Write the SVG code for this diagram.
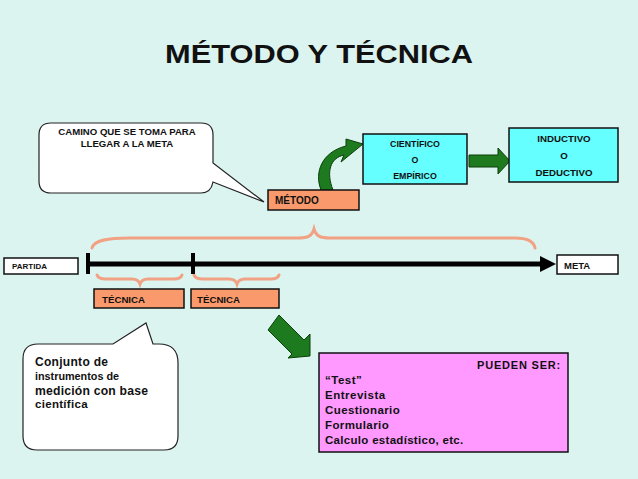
<svg xmlns="http://www.w3.org/2000/svg" width="638" height="479" viewBox="0 0 638 479">
<style>
text{font-family:"Liberation Sans",Arial,sans-serif;font-weight:bold;fill:#111}
.box{stroke:#111;stroke-width:1.5}
.orange{fill:#FA9A6C}
.cyan{fill:#66FFFF}
.pink{fill:#FF99FF}
.white{fill:#fff}
.callout{fill:#fff;stroke:#222;stroke-width:1.2}
.brace{fill:none;stroke:#F2A284;stroke-width:3;stroke-linecap:round}
.garrow{fill:#1E7A1E;stroke:#0B3F0B;stroke-width:1}
</style>
<rect width="638" height="479" fill="#DCF4F0"/>
<text x="165" y="63" font-size="26" textLength="308" lengthAdjust="spacingAndGlyphs">MÉTODO Y TÉCNICA</text>

<g id="connectors">
  <path class="brace" d="M92,248 C94,240 108,238 130,238 L298,238 C308,238 312,236 314,229 C316,236 320,238 330,238 L515,238 C528,238 534,242 535,248"/>
  <path class="brace" d="M97,275 C98,278 101,279 106,279 L132,279 C137,279 139,281 140,284 C141,281 143,279 148,279 L174,279 C179,279 181,278 182,275"/>
  <path class="brace" d="M194,275 C195,278 198,279 203,279 L229,279 C234,279 236,281 237,284 C238,281 240,279 245,279 L271,279 C276,279 278,278 279,275"/>
  <line x1="88" y1="264" x2="542" y2="264" stroke="#000" stroke-width="5"/>
  <polygon points="540,256 556,264 540,272" fill="#000"/>
  <rect x="86" y="253" width="4" height="21" fill="#000"/>
  <rect x="191" y="253" width="4" height="21" fill="#000"/>
  <path class="garrow" d="M321,190 C314,172 322,152 346,146 L346,139 L363,144 L341,162 L344,155 C330,158 326,172 333,190 Z"/>
  <polygon class="garrow" points="469,155 498,155 498,148 510,161 498,174 498,167 469,167"/>
  <polygon class="garrow" points="268,330 279,315 304,340 310,334 310,356 288,358 292,354"/>
</g>

<g id="callout-camino">
  <path class="callout" d="M51,123 H201 Q213,123 213,135 V163 L264,202 L213,182 Q211,193 201,193 H51 Q39,193 39,181 V135 Q39,123 51,123 Z"/>
  <text x="127" y="135" font-size="9.6" text-anchor="middle">CAMINO QUE SE TOMA PARA</text>
  <text x="127" y="147" font-size="9.6" text-anchor="middle">LLEGAR  A LA META</text>
</g>

<g id="metodo">
  <rect class="box orange" x="268" y="190" width="91" height="20"/>
  <text x="275" y="204" font-size="10">MÉTODO</text>
</g>

<g id="cientifico">
  <rect class="box cyan" x="363" y="134" width="104" height="50"/>
  <text x="415" y="147" font-size="8.8" text-anchor="middle">CIENTÍFICO</text>
  <text x="415" y="163" font-size="8.8" text-anchor="middle">O</text>
  <text x="415" y="179" font-size="8.8" text-anchor="middle">EMPÍRICO</text>
</g>

<g id="inductivo">
  <rect class="box cyan" x="509" y="128" width="109" height="54"/>
  <text x="564" y="142" font-size="9.7" text-anchor="middle">INDUCTIVO</text>
  <text x="564" y="159" font-size="9.7" text-anchor="middle">O</text>
  <text x="564" y="176" font-size="9.7" text-anchor="middle">DEDUCTIVO</text>
</g>

<g id="partida">
  <rect class="box white" x="4" y="258" width="74" height="16"/>
  <text x="12" y="268.5" font-size="8">PARTIDA</text>
</g>

<g id="meta">
  <rect class="box white" x="557" y="255" width="61" height="19"/>
  <text x="564" y="268.5" font-size="9.5">META</text>
</g>

<g id="tecnica1">
  <rect class="box orange" x="94" y="289" width="90" height="19"/>
  <text x="102" y="303" font-size="9.7">TÉCNICA</text>
</g>

<g id="tecnica2">
  <rect class="box orange" x="191" y="289" width="88" height="19"/>
  <text x="197" y="303" font-size="9.7">TÉCNICA</text>
</g>

<g id="callout-conjunto">
  <path class="callout" d="M38,344 H113 L146,323 L153,344 H159 Q178,344 178,363 V436 Q178,450 164,450 H37 Q23,450 23,436 V359 Q23,344 38,344 Z"/>
  <text x="35" y="366" font-size="12" letter-spacing="0.3">Conjunto de</text>
  <text x="35" y="380" font-size="10.8">instrumentos de</text>
  <text x="35" y="395" font-size="12.2" letter-spacing="0.2">medición con base</text>
  <text x="35" y="408" font-size="11.5" letter-spacing="0.3">científica</text>
</g>

<g id="pueden-ser">
  <rect class="box pink" x="319" y="353" width="249" height="99"/>
  <text x="561" y="369" font-size="11" letter-spacing="0.8" text-anchor="end">PUEDEN SER:</text>
  <text x="325" y="384" font-size="11.5" letter-spacing="0.5">“Test”</text>
  <text x="325" y="399" font-size="11.5" letter-spacing="0.5">Entrevista</text>
  <text x="325" y="414" font-size="11.5" letter-spacing="0.4">Cuestionario</text>
  <text x="325" y="429" font-size="11.5" letter-spacing="0.4">Formulario</text>
  <text x="325" y="444" font-size="11.5" letter-spacing="0.3">Calculo estadístico, etc.</text>
</g>
</svg>
